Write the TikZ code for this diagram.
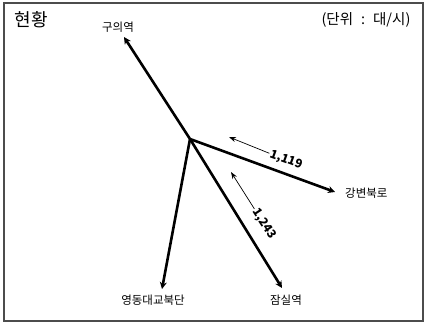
\documentclass[tikz,border=0pt]{standalone}
\usepackage{fontspec}
\setmainfont{Noto Sans CJK KR}
\usetikzlibrary{arrows.meta}

\begin{document}
\begin{tikzpicture}[x=1pt,y=-1pt,
    road/.style={line width=2.6pt,-{Stealth[length=7pt,width=7pt]}},
    flow/.style={line width=0.7pt,-{Stealth[length=7pt,width=5pt]}},
    place/.style={font=\fontsize{11.5}{12}\selectfont,inner sep=1pt},
    count/.style={font=\fontsize{12}{12}\selectfont\bfseries,inner sep=1pt}]
  \useasboundingbox (0,0) rectangle (430,325);
  \draw[gray!60!black,line width=1.3pt] (4,3) rectangle (423,321);
  \draw
    (190,139) coordinate (c)
    (124,37) coordinate (guui)
    (335,192) coordinate (gangbyeon)
    (162,289) coordinate (yeongdong)
    (282,288) coordinate (jamsil)
    (229,137) coordinate (h1)
    (231,172) coordinate (h2);
  \draw
    (31,20) node[font=\fontsize{18}{19}\selectfont] (title){현황}
    (366,20) node[font=\fontsize{14.5}{15}\selectfont] (unit){(단위\hspace{0.55em}:\hspace{0.55em}대/시)}
    (118,27) node[place] (nguui){구의역}
    (344,193) node[place,anchor=west] (ngangbyeon){강변북로}
    (153,300) node[place] (nyeongdong){영동대교북단}
    (286,300) node[place] (njamsil){잠실역}
    (286,160) node[count,rotate=-20] (v1){1,119}
    (264,224) node[count,rotate=-57] (v2){1,243};
  \begin{scope}[road]
    \draw (c) -- (guui);
    \draw (c) -- (gangbyeon);
    \draw (c) -- (yeongdong);
    \draw (c) -- (jamsil);
  \end{scope}
  \begin{scope}[flow]
    \draw (v1) -- (h1);
    \draw (v2) -- (h2);
  \end{scope}
\end{tikzpicture}
\end{document}
